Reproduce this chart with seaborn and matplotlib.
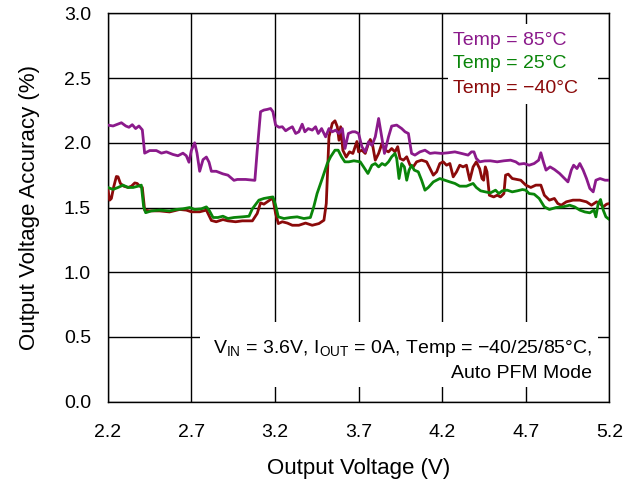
import numpy as np
import pandas as pd
import matplotlib
matplotlib.use("Agg")
import matplotlib.pyplot as plt
import seaborn as sns
from matplotlib.patches import Rectangle
from matplotlib.ticker import FormatStrFormatter

# Valeurs
x_85 = [2.200, 2.232, 2.252, 2.282, 2.308, 2.327, 2.347, 2.367, 2.387, 2.407,
        2.421, 2.451, 2.491, 2.521, 2.551, 2.590, 2.620, 2.650, 2.670, 2.686,
        2.700, 2.720, 2.734, 2.750, 2.770, 2.790, 2.806, 2.820, 2.849, 2.889,
        2.919, 2.955, 2.975, 3.025, 3.080, 3.094, 3.114, 3.134, 3.154, 3.174,
        3.188, 3.204, 3.224, 3.244, 3.264, 3.284, 3.304, 3.324, 3.343, 3.363,
        3.379, 3.399, 3.423, 3.443, 3.459, 3.479, 3.503, 3.523, 3.543, 3.563,
        3.583, 3.603, 3.619, 3.639, 3.663, 3.680, 3.700, 3.720, 3.740, 3.760,
        3.780, 3.800, 3.820, 3.835, 3.855, 3.879, 3.898, 3.928, 3.958, 3.978,
        3.998, 4.017, 4.037, 4.067, 4.097, 4.127, 4.156, 4.196, 4.236, 4.276,
        4.315, 4.355, 4.375, 4.390, 4.404, 4.424, 4.454, 4.488, 4.529, 4.569,
        4.609, 4.640, 4.660, 4.690, 4.720, 4.750, 4.777, 4.790, 4.805, 4.821,
        4.845, 4.871, 4.902, 4.932, 4.952, 4.972, 4.986, 5.006, 5.023, 5.043,
        5.063, 5.083, 5.103, 5.119, 5.144, 5.174, 5.200]
y_85 = [2.137, 2.130, 2.140, 2.155, 2.130, 2.120, 2.140, 2.110, 2.130, 2.100,
        1.920, 1.940, 1.940, 1.920, 1.930, 1.910, 1.900, 1.920, 1.900, 1.850,
        1.940, 2.000, 1.920, 1.780, 1.870, 1.890, 1.850, 1.780, 1.780, 1.760,
        1.750, 1.710, 1.717, 1.717, 1.710, 1.940, 2.240, 2.253, 2.258, 2.265,
        2.240, 2.137, 2.120, 2.124, 2.093, 2.110, 2.124, 2.072, 2.085, 2.144,
        2.085, 2.110, 2.098, 2.124, 2.072, 2.110, 2.046, 2.110, 2.085, 2.098,
        2.072, 2.110, 1.956, 2.072, 2.085, 2.085, 2.072, 1.970, 1.930, 2.008,
        1.980, 2.046, 2.188, 2.072, 1.918, 2.046, 2.129, 2.137, 2.110, 2.085,
        2.072, 1.918, 1.905, 1.930, 1.943, 1.918, 1.923, 1.918, 1.923, 1.930,
        1.918, 1.905, 1.930, 1.930, 1.879, 1.853, 1.860, 1.861, 1.853, 1.861,
        1.866, 1.853, 1.835, 1.840, 1.827, 1.840, 1.866, 1.923, 1.853, 1.789,
        1.814, 1.794, 1.763, 1.724, 1.698, 1.789, 1.827, 1.801, 1.840, 1.789,
        1.724, 1.647, 1.621, 1.711, 1.724, 1.711, 1.711]

x_25 = [2.200, 2.232, 2.262, 2.292, 2.322, 2.352, 2.382, 2.401, 2.415, 2.427,
        2.461, 2.510, 2.570, 2.610, 2.650, 2.690, 2.720, 2.760, 2.790, 2.806,
        2.830, 2.859, 2.889, 2.919, 2.955, 3.005, 3.045, 3.065, 3.104, 3.134,
        3.164, 3.188, 3.204, 3.220, 3.254, 3.293, 3.333, 3.373, 3.412, 3.432,
        3.452, 3.483, 3.513, 3.533, 3.559, 3.578, 3.598, 3.618, 3.642, 3.672,
        3.710, 3.730, 3.756, 3.780, 3.800, 3.820, 3.840, 3.859, 3.879, 3.898,
        3.918, 3.928, 3.942, 3.958, 3.974, 3.988, 4.002, 4.017, 4.033, 4.057,
        4.077, 4.097, 4.117, 4.147, 4.186, 4.216, 4.246, 4.276, 4.305, 4.345,
        4.385, 4.404, 4.430, 4.458, 4.488, 4.519, 4.539, 4.559, 4.589, 4.619,
        4.649, 4.680, 4.700, 4.720, 4.750, 4.780, 4.811, 4.841, 4.881, 4.922,
        4.962, 4.992, 5.023, 5.053, 5.083, 5.107, 5.119, 5.133, 5.147, 5.163,
        5.179, 5.200]
y_25 = [1.655, 1.640, 1.655, 1.673, 1.655, 1.655, 1.665, 1.673, 1.505, 1.460,
        1.474, 1.480, 1.474, 1.485, 1.490, 1.500, 1.485, 1.490, 1.505, 1.480,
        1.423, 1.423, 1.433, 1.415, 1.423, 1.428, 1.433, 1.490, 1.557, 1.570,
        1.577, 1.582, 1.518, 1.428, 1.415, 1.423, 1.428, 1.415, 1.423, 1.505,
        1.608, 1.724, 1.840, 1.892, 1.943, 1.943, 1.892, 1.853, 1.853, 1.861,
        1.853, 1.814, 1.763, 1.827, 1.840, 1.814, 1.840, 1.827, 1.853, 1.892,
        1.918, 1.879, 1.724, 1.840, 1.814, 1.711, 1.789, 1.827, 1.789, 1.776,
        1.711, 1.634, 1.655, 1.698, 1.724, 1.711, 1.698, 1.686, 1.665, 1.665,
        1.686, 1.655, 1.629, 1.621, 1.613, 1.634, 1.608, 1.629, 1.634, 1.621,
        1.629, 1.639, 1.634, 1.608, 1.603, 1.570, 1.505, 1.485, 1.500, 1.505,
        1.518, 1.505, 1.480, 1.466, 1.459, 1.480, 1.428, 1.531, 1.562, 1.480,
        1.428, 1.407]

x_m40 = [2.200, 2.212, 2.222, 2.236, 2.252, 2.262, 2.276, 2.296, 2.322, 2.342,
         2.362, 2.376, 2.392, 2.407, 2.421, 2.451, 2.510, 2.570, 2.630, 2.670,
         2.700, 2.750, 2.790, 2.820, 2.849, 2.889, 2.919, 2.965, 3.005, 3.065,
         3.094, 3.114, 3.134, 3.154, 3.174, 3.188, 3.204, 3.220, 3.244, 3.274,
         3.304, 3.343, 3.383, 3.423, 3.463, 3.493, 3.507, 3.523, 3.543, 3.559,
         3.573, 3.583, 3.593, 3.606, 3.626, 3.646, 3.666, 3.690, 3.700, 3.720,
         3.740, 3.756, 3.770, 3.784, 3.800, 3.820, 3.840, 3.859, 3.879, 3.898,
         3.918, 3.934, 3.948, 3.968, 3.988, 4.008, 4.027, 4.047, 4.077, 4.107,
         4.127, 4.147, 4.167, 4.186, 4.206, 4.226, 4.246, 4.266, 4.286, 4.305,
         4.325, 4.345, 4.365, 4.385, 4.404, 4.424, 4.438, 4.448, 4.458, 4.468,
         4.482, 4.508, 4.529, 4.549, 4.569, 4.579, 4.595, 4.619, 4.650, 4.670,
         4.700, 4.730, 4.760, 4.790, 4.811, 4.841, 4.871, 4.891, 4.912, 4.942,
         4.982, 5.023, 5.063, 5.093, 5.123, 5.144, 5.163, 5.183, 5.200]
y_m40 = [1.647, 1.557, 1.570, 1.660, 1.740, 1.737, 1.686, 1.665, 1.655, 1.665,
         1.690, 1.686, 1.665, 1.655, 1.480, 1.474, 1.474, 1.466, 1.485, 1.480,
         1.467, 1.467, 1.480, 1.400, 1.390, 1.407, 1.397, 1.390, 1.397, 1.397,
         1.454, 1.536, 1.526, 1.544, 1.562, 1.570, 1.454, 1.376, 1.390, 1.380,
         1.363, 1.363, 1.380, 1.363, 1.376, 1.402, 1.531, 2.046, 2.150, 2.170,
         2.124, 2.020, 2.124, 1.943, 1.890, 1.930, 1.918, 2.010, 1.930, 1.943,
         1.918, 1.982, 2.026, 1.982, 1.866, 1.918, 1.995, 1.943, 1.930, 1.956,
         1.930, 1.970, 1.879, 1.866, 1.892, 1.827, 1.814, 1.853, 1.866, 1.853,
         1.801, 1.750, 1.776, 1.840, 1.853, 1.827, 1.840, 1.737, 1.776, 1.827,
         1.814, 1.827, 1.711, 1.814, 1.853, 1.800, 1.724, 1.711, 1.814, 1.776,
         1.595, 1.582, 1.595, 1.582, 1.608, 1.750, 1.758, 1.724, 1.716, 1.711,
         1.673, 1.655, 1.673, 1.673, 1.595, 1.557, 1.570, 1.531, 1.518, 1.544,
         1.557, 1.557, 1.544, 1.518, 1.544, 1.531, 1.505, 1.526, 1.531]

series_labels = ["Temp = 85°C", "Temp = 25°C", "Temp = \u221240°C"]
series_colors = ["#8B1A8B", "#0A850A", "#8B0A0A"]

x_ticks = [2.2, 2.7, 3.2, 3.7, 4.2, 4.7, 5.2]
y_ticks = [0.0, 0.5, 1.0, 1.5, 2.0, 2.5, 3.0]

sns.set_style("white")
plt.rcParams["font.family"] = ["Liberation Sans", "DejaVu Sans"]
plt.rcParams["mathtext.fontset"] = "custom"
plt.rcParams["mathtext.rm"] = "Liberation Sans"
plt.rcParams["text.color"] = "black"
plt.rcParams["axes.labelcolor"] = "black"
plt.rcParams["xtick.color"] = "black"
plt.rcParams["ytick.color"] = "black"

fig = plt.figure(figsize=(6.38, 4.79), dpi=100)
ax = fig.add_axes([0.1688, 0.1614, 0.7864, 0.8107])

# ordre de tracé : rouge, vert, violet
for xs, ys, c in [(x_m40, y_m40, series_colors[2]),
                  (x_25, y_25, series_colors[1]),
                  (x_85, y_85, series_colors[0])]:
    sns.lineplot(x=xs, y=ys, color=c, linewidth=2.0, ax=ax, zorder=3)

ax.set_xlim(2.2, 5.2)
ax.set_ylim(0, 3.0)
ax.set_xticks(x_ticks)
ax.set_yticks(y_ticks)
ax.yaxis.set_major_formatter(FormatStrFormatter("%.1f"))
ax.grid(True, color="black", linewidth=1.0)
ax.set_axisbelow(True)
for s in ax.spines.values():
    s.set_color("black")
    s.set_linewidth(1.0)
ax.tick_params(axis="x", length=0, pad=16, labelsize=14, labelcolor="black")
ax.tick_params(axis="y", length=0, pad=12, labelsize=14, labelcolor="black")
ax.set_xlabel("Output Voltage (V)", fontsize=16, labelpad=12, color="black")
ax.set_ylabel("Output Voltage Accuracy (%)", fontsize=16, labelpad=17, color="black")

# cadres blancs de la légende et de l'annotation
ax.add_patch(Rectangle((4.235, 2.30), 0.897, 0.62, facecolor="white",
                       edgecolor="none", zorder=1))
ax.add_patch(Rectangle((2.752, 0.11), 2.38, 0.503, facecolor="white",
                       edgecolor="none", zorder=1))

for lab, c, yy in zip(series_labels, series_colors, [2.794, 2.616, 2.423]):
    ax.text(4.265, yy, lab, color=c, fontsize=14, va="center", ha="left", zorder=4)

note_1 = "V$_{\\mathregular{IN}}$ = 3.6V, I$_{\\mathregular{OUT}}$ = 0A, Temp = \u221240/25/85°C,"
note_2 = "Auto PFM Mode"
ax.text(5.095, 0.412, note_1, fontsize=14, ha="right", va="center", zorder=4, color="black")
ax.text(5.095, 0.219, note_2, fontsize=14, ha="right", va="center", zorder=4, color="black")

fig.savefig("out.png", dpi=100)
